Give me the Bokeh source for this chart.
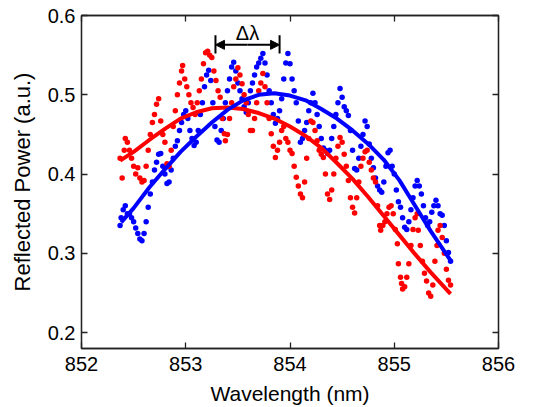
from bokeh.plotting import figure
from bokeh.models import Range1d, LinearAxis, FixedTicker, Arrow, NormalHead
from bokeh.core.properties import value
from bokeh.embed import file_html
from bokeh.resources import INLINE

# ---------------- data ----------------
red_x = [852.37, 852.39, 852.41, 852.42, 852.44, 852.46, 852.48, 852.50, 852.52, 852.54,
         852.56, 852.58, 852.60, 852.62, 852.64, 852.66, 852.68, 852.70, 852.72, 852.74,
         852.76, 852.78, 852.80, 852.82, 852.84, 852.86, 852.88, 852.90, 852.92, 852.94,
         852.96, 852.97, 852.99, 853.01, 853.03, 853.05, 853.07, 853.09, 853.11, 853.13,
         853.15, 853.17, 853.19, 853.21, 853.23, 853.25, 853.27, 853.29, 853.31, 853.33,
         853.35, 853.37, 853.38, 853.40, 853.42, 853.44, 853.46, 853.48, 853.50, 853.52,
         853.54, 853.56, 853.58, 853.60, 853.62, 853.64, 853.66, 853.68, 853.70, 853.72,
         853.74, 853.76, 853.78, 853.80, 853.82, 853.84, 853.86, 853.88, 853.90, 853.92,
         853.94, 853.96, 853.98, 854.00, 854.02, 854.04, 854.06, 854.08, 854.10, 854.12,
         854.14, 854.16, 854.18, 854.20, 854.22, 854.24, 854.26, 854.28, 854.30, 854.32,
         854.34, 854.36, 854.38, 854.40, 854.42, 854.44, 854.46, 854.48, 854.50, 854.52,
         854.54, 854.56, 854.58, 854.60, 854.62, 854.64, 854.66, 854.68, 854.70, 854.72,
         854.74, 854.76, 854.78, 854.80, 854.82, 854.84, 854.86, 854.87, 854.89, 854.91,
         854.93, 854.95, 854.97, 854.99, 855.01, 855.03, 855.04, 855.06, 855.07, 855.08,
         855.10, 855.12, 855.14, 855.16, 855.18, 855.20, 855.22, 855.23, 855.25, 855.27,
         855.29, 855.31, 855.33, 855.35, 855.37, 855.39, 855.41, 855.42, 855.44, 855.46,
         855.48, 855.50, 855.52, 855.54]
red_y = [0.420, 0.395, 0.430, 0.445, 0.440, 0.430, 0.420, 0.410, 0.400, 0.408,
         0.395, 0.390, 0.392, 0.410, 0.430, 0.450, 0.465, 0.475, 0.488, 0.495,
         0.467, 0.450, 0.440, 0.413, 0.410, 0.430, 0.460, 0.480, 0.500, 0.515,
         0.530, 0.537, 0.520, 0.510, 0.500, 0.490, 0.484, 0.475, 0.490, 0.505,
         0.520, 0.539, 0.553, 0.555, 0.550, 0.547, 0.530, 0.518, 0.505, 0.497,
         0.470, 0.451, 0.442, 0.450, 0.470, 0.490, 0.510, 0.520, 0.534, 0.525,
         0.514, 0.500, 0.490, 0.475, 0.455, 0.455, 0.470, 0.490, 0.505, 0.515,
         0.527, 0.510, 0.490, 0.470, 0.451, 0.435, 0.421, 0.430, 0.440, 0.455,
         0.460, 0.445, 0.440, 0.430, 0.426, 0.410, 0.396, 0.385, 0.375, 0.370,
         0.390, 0.420, 0.445, 0.467, 0.465, 0.455, 0.442, 0.430, 0.425, 0.421,
         0.400, 0.375, 0.368, 0.380, 0.400, 0.420, 0.435, 0.446, 0.440, 0.425,
         0.410, 0.392, 0.370, 0.358, 0.351, 0.370, 0.390, 0.410, 0.420, 0.428,
         0.430, 0.415, 0.405, 0.395, 0.390, 0.360, 0.335, 0.329, 0.335, 0.340,
         0.350, 0.358, 0.360, 0.350, 0.330, 0.312, 0.287, 0.270, 0.262, 0.255,
         0.258, 0.270, 0.287, 0.310, 0.330, 0.345, 0.350, 0.329, 0.310, 0.290,
         0.275, 0.265, 0.250, 0.246, 0.260, 0.290, 0.310, 0.329, 0.335, 0.320,
         0.300, 0.280, 0.266, 0.260]

blue_x = [852.37, 852.38, 852.40, 852.42, 852.44, 852.46, 852.48, 852.50, 852.52, 852.54,
          852.56, 852.58, 852.60, 852.62, 852.64, 852.66, 852.68, 852.70, 852.72, 852.74,
          852.76, 852.78, 852.80, 852.82, 852.84, 852.86, 852.88, 852.90, 852.92, 852.94,
          852.96, 852.98, 853.00, 853.02, 853.04, 853.06, 853.08, 853.10, 853.12, 853.14,
          853.16, 853.18, 853.20, 853.22, 853.24, 853.26, 853.28, 853.30, 853.32, 853.34,
          853.36, 853.38, 853.40, 853.42, 853.44, 853.46, 853.48, 853.50, 853.52, 853.54,
          853.56, 853.58, 853.60, 853.62, 853.64, 853.66, 853.68, 853.70, 853.72, 853.74,
          853.76, 853.78, 853.80, 853.82, 853.84, 853.86, 853.88, 853.90, 853.92, 853.94,
          853.96, 853.98, 854.00, 854.02, 854.04, 854.06, 854.08, 854.10, 854.12, 854.14,
          854.16, 854.18, 854.20, 854.22, 854.24, 854.26, 854.28, 854.30, 854.32, 854.34,
          854.36, 854.38, 854.40, 854.42, 854.44, 854.46, 854.48, 854.50, 854.52, 854.54,
          854.56, 854.58, 854.60, 854.62, 854.64, 854.66, 854.68, 854.70, 854.72, 854.74,
          854.76, 854.78, 854.80, 854.82, 854.84, 854.86, 854.88, 854.90, 854.92, 854.94,
          854.96, 854.98, 855.00, 855.02, 855.04, 855.06, 855.08, 855.10, 855.12, 855.14,
          855.16, 855.18, 855.20, 855.22, 855.24, 855.26, 855.28, 855.30, 855.32, 855.34,
          855.36, 855.38, 855.40, 855.42, 855.44, 855.46, 855.48, 855.50, 855.52, 855.54]
blue_y = [0.335, 0.345, 0.355, 0.360, 0.350, 0.350, 0.345, 0.340, 0.332, 0.325,
          0.318, 0.316, 0.325, 0.340, 0.358, 0.375, 0.390, 0.405, 0.415, 0.425,
          0.426, 0.410, 0.400, 0.388, 0.390, 0.405, 0.420, 0.435, 0.442, 0.455,
          0.465, 0.475, 0.480, 0.470, 0.455, 0.445, 0.436, 0.440, 0.455, 0.475,
          0.490, 0.510, 0.525, 0.531, 0.518, 0.490, 0.460, 0.443, 0.440, 0.455,
          0.470, 0.490, 0.505, 0.520, 0.535, 0.541, 0.530, 0.515, 0.505, 0.495,
          0.485, 0.478, 0.490, 0.505, 0.515, 0.525, 0.535, 0.540, 0.546, 0.552,
          0.540, 0.525, 0.505, 0.490, 0.475, 0.464, 0.470, 0.480, 0.495, 0.520,
          0.540, 0.552, 0.539, 0.520, 0.505, 0.490, 0.467, 0.440, 0.445, 0.455,
          0.465, 0.480, 0.490, 0.502, 0.490, 0.475, 0.460, 0.445, 0.433, 0.430,
          0.426, 0.430, 0.445, 0.460, 0.475, 0.490, 0.508, 0.497, 0.485, 0.480,
          0.474, 0.455, 0.430, 0.407, 0.405, 0.420, 0.435, 0.450, 0.467, 0.460,
          0.438, 0.420, 0.408, 0.395, 0.385, 0.380, 0.377, 0.390, 0.410, 0.427,
          0.430, 0.410, 0.400, 0.380, 0.365, 0.358, 0.345, 0.333, 0.330, 0.340,
          0.355, 0.370, 0.385, 0.392, 0.385, 0.375, 0.360, 0.345, 0.335, 0.340,
          0.352, 0.360, 0.367, 0.360, 0.350, 0.348, 0.335, 0.316, 0.301, 0.290]

red_fit_x = [852.37, 852.50, 852.65, 852.80, 852.95, 853.10, 853.25, 853.40, 853.55, 853.70,
             853.85, 854.00, 854.15, 854.30, 854.45, 854.60, 854.75, 854.90, 855.05, 855.20,
             855.35, 855.54]
red_fit_y = [0.417, 0.428, 0.443, 0.457, 0.470, 0.478, 0.483, 0.484, 0.482, 0.477,
             0.470, 0.460, 0.448, 0.433, 0.414, 0.394, 0.371, 0.347, 0.323, 0.299,
             0.276, 0.249]
blue_fit_x = [852.38, 852.50, 852.65, 852.80, 852.95, 853.10, 853.25, 853.40, 853.55, 853.70,
              853.85, 854.00, 854.15, 854.30, 854.45, 854.60, 854.75, 854.90, 855.05, 855.20,
              855.35, 855.54]
blue_fit_y = [0.339, 0.357, 0.383, 0.406, 0.428, 0.447, 0.465, 0.481, 0.493, 0.500,
              0.502, 0.499, 0.493, 0.482, 0.470, 0.455, 0.438, 0.418, 0.392, 0.360,
              0.328, 0.291]

x_ticks = [852, 853, 854, 855, 856]
y_ticks = [0.2, 0.3, 0.4, 0.5, 0.6]

# annotation (delta lambda between the two peaks)
dl_left = 853.285
dl_right = 853.90
dl_y = 0.563
dl_bar_lo = 0.552
dl_bar_hi = 0.575
dl_text_y = 0.578
dl_label = "Δλ"

FONT = "Liberation Sans"
FS = "20px"

p = figure(width=537, height=407, output_backend="svg", toolbar_location=None,
           x_range=Range1d(852, 856), y_range=Range1d(0.18, 0.6),
           min_border_left=81, min_border_right=39, min_border_top=15, min_border_bottom=59)
p.background_fill_color = "white"
p.border_fill_color = "white"
p.outline_line_color = "#222222"
p.outline_line_width = 1.3
p.xgrid.visible = False
p.ygrid.visible = False

for ax in (p.xaxis[0], p.yaxis[0]):
    ax.major_tick_in = 6
    ax.major_tick_out = 0
    ax.minor_tick_in = 0
    ax.minor_tick_out = 0
    ax.axis_line_color = "#222222"
    ax.axis_line_width = 1.3
    ax.major_tick_line_color = "#222222"
    ax.major_tick_line_width = 1.3
    ax.major_label_text_font = FONT
    ax.major_label_text_font_size = FS
    ax.major_label_text_color = "black"
    ax.axis_label_text_font = FONT
    ax.axis_label_text_font_style = "normal"
    ax.axis_label_text_color = "black"

p.xaxis[0].ticker = FixedTicker(ticks=x_ticks)
p.yaxis[0].ticker = FixedTicker(ticks=y_ticks)
p.xaxis[0].axis_label = "Wavelength (nm)"
p.yaxis[0].axis_label = "Reflected Power (a.u.)"
p.xaxis[0].axis_label_text_font_size = "21px"
p.yaxis[0].axis_label_text_font_size = "22px"
p.xaxis[0].major_label_standoff = 8
p.yaxis[0].major_label_standoff = 6
p.xaxis[0].axis_label_standoff = 8
p.yaxis[0].axis_label_standoff = 10

top = LinearAxis(ticker=FixedTicker(ticks=x_ticks))
right = LinearAxis(ticker=FixedTicker(ticks=y_ticks))
for ax in (top, right):
    ax.major_tick_in = 6
    ax.major_tick_out = 0
    ax.minor_tick_in = 0
    ax.minor_tick_out = 0
    ax.major_label_text_font_size = "0px"
    ax.major_label_text_color = None
    ax.major_label_standoff = 0
    ax.axis_line_color = "#222222"
    ax.axis_line_width = 1.3
    ax.major_tick_line_color = "#222222"
    ax.major_tick_line_width = 1.3
p.add_layout(top, "above")
p.add_layout(right, "right")

p.scatter(blue_x, blue_y, size=5.5, color="#0000ff", line_color=None)
p.scatter(red_x, red_y, size=5.5, color="#ff0000", line_color=None)
p.line(red_fit_x, red_fit_y, line_width=4, color="#ff0000")
p.line(blue_fit_x, blue_fit_y, line_width=4, color="#0000ff")

# delta-lambda annotation
p.segment(x0=[dl_left, dl_right], y0=[dl_bar_lo, dl_bar_lo],
          x1=[dl_left, dl_right], y1=[dl_bar_hi, dl_bar_hi],
          line_color="black", line_width=2)
p.add_layout(Arrow(x_start=(dl_left + dl_right) / 2, y_start=dl_y, x_end=dl_left, y_end=dl_y,
                   line_width=2, line_color="black",
                   end=NormalHead(size=9, fill_color="black", line_color="black")))
p.add_layout(Arrow(x_start=(dl_left + dl_right) / 2, y_start=dl_y, x_end=dl_right, y_end=dl_y,
                   line_width=2, line_color="black",
                   end=NormalHead(size=9, fill_color="black", line_color="black")))
p.text(x=[(dl_left + dl_right) / 2], y=[dl_text_y], text=[dl_label],
       text_font=value(FONT), text_font_size=FS, text_align="center",
       text_baseline="middle", text_color="black")

open("out.html", "w").write(file_html(p, INLINE))
